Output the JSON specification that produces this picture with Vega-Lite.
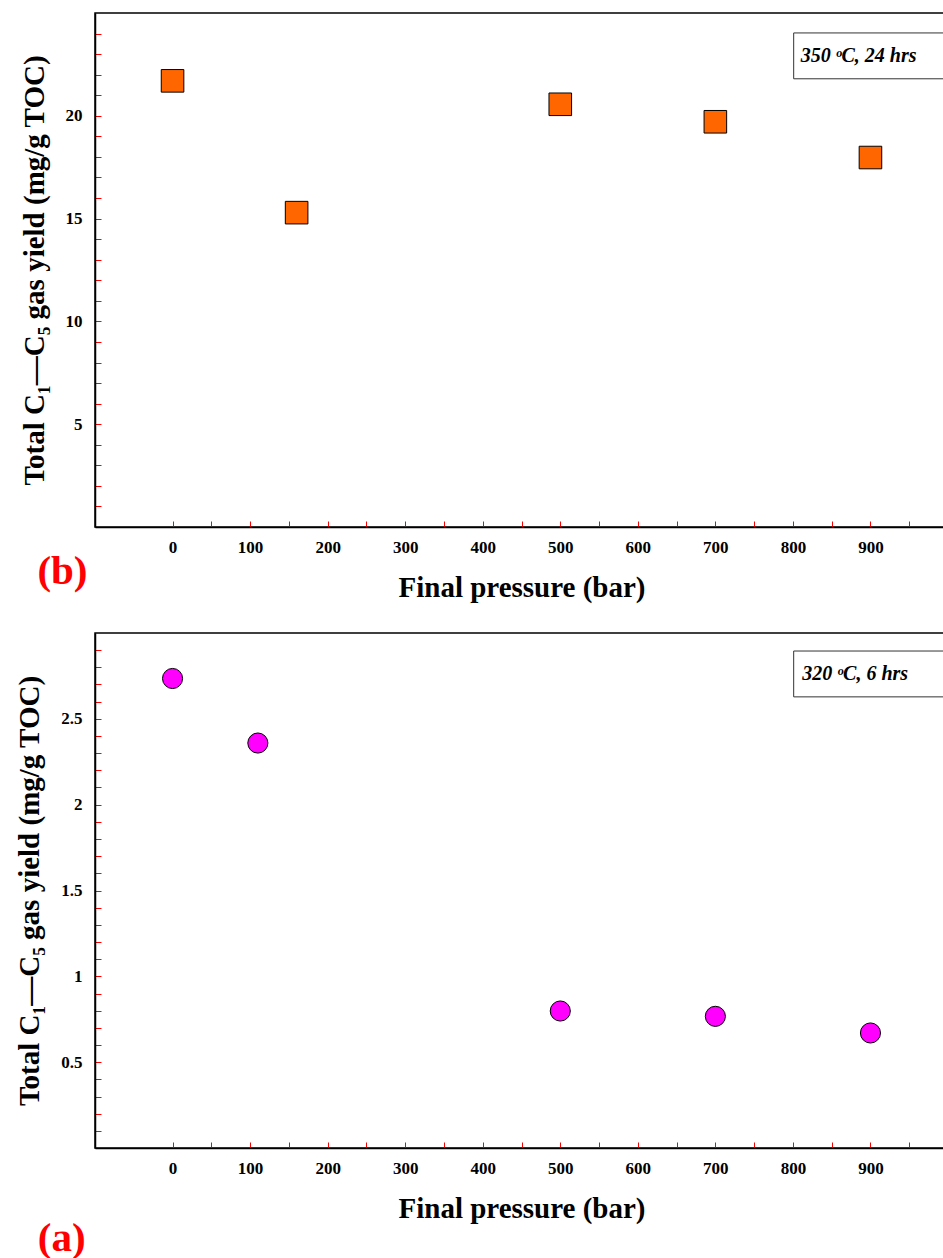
{
  "$schema": "https://vega.github.io/schema/vega-lite/v6.json",
  "background": "white",
  "padding": {"top": 12, "left": 15, "right": 0, "bottom": 0},
  "spacing": 29,
  "datasets": {
    "b_points": [
      {"pressure": 0, "yield": 21.7},
      {"pressure": 160, "yield": 15.29},
      {"pressure": 500, "yield": 20.56},
      {"pressure": 700, "yield": 19.71},
      {"pressure": 900, "yield": 17.97}
    ],
    "a_points": [
      {"pressure": 0, "yield": 2.735},
      {"pressure": 110, "yield": 2.359},
      {"pressure": 500, "yield": 0.798},
      {"pressure": 700, "yield": 0.767},
      {"pressure": 900, "yield": 0.67}
    ],
    "b_box": [{"x1": 801, "x2": 1000, "y1": 21.8, "y2": 24.03, "tx": 810, "ty": 22.9, "label": "350  ᵒC, 24 hrs"}],
    "a_box": [{"x1": 801, "x2": 1000, "y1": 2.628, "y2": 2.895, "tx": 812, "ty": 2.76, "label": "320  ᵒC, 6 hrs"}],
    "b_tag": [{"x": -142, "y": -2.2, "label": "(b)"}],
    "a_tag": [{"x": -143, "y": -0.53, "label": "(a)"}]
  },
  "vconcat": [
    {
      "width": 853,
      "height": 514,
      "layer": [
        {
          "data": {"name": "b_points"},
          "mark": {"type": "point", "shape": "square", "filled": true, "fill": "#FF6600", "stroke": "black", "strokeWidth": 1, "size": 510, "opacity": 1},
          "encoding": {
            "x": {"field": "pressure", "type": "quantitative", "scale": {"domain": [-100, 1000], "nice": false, "zero": false},
              "axis": {"values": [0,50,100,150,200,250,300,350,400,450,500,550,600,650,700,750,800,850,900,950], "tickCount": 200,
                "labelExpr": "datum.value % 100 == 0 ? datum.label : ''", "title": "Final pressure (bar)"}},
            "y": {"field": "yield", "type": "quantitative", "scale": {"domain": [0, 25], "nice": false, "zero": false},
              "axis": {"values": [1,2,3,4,5,6,7,8,9,10,11,12,13,14,15,16,17,18,19,20,21,22,23,24], "tickCount": 200,
                "labelExpr": "datum.value % 5 == 0 ? format(datum.value, '~g') : ''", "title": "Total C₁—C₅ gas yield (mg/g TOC)"}}
          }
        },
        {
          "data": {"name": "b_box"},
          "mark": {"type": "rect", "fill": "white", "stroke": "#333333", "strokeWidth": 1},
          "encoding": {
            "x": {"field": "x1", "type": "quantitative", "scale": {"domain": [-100, 1000], "nice": false, "zero": false}},
            "x2": {"field": "x2"},
            "y": {"field": "y1", "type": "quantitative", "scale": {"domain": [0, 25], "nice": false, "zero": false}},
            "y2": {"field": "y2"}
          }
        },
        {
          "data": {"name": "b_box"},
          "mark": {"type": "text", "align": "left", "baseline": "middle", "font": "Liberation Serif", "fontSize": 20, "fontWeight": "bold", "fontStyle": "italic", "color": "black"},
          "encoding": {
            "x": {"field": "tx", "type": "quantitative", "scale": {"domain": [-100, 1000], "nice": false, "zero": false}},
            "y": {"field": "ty", "type": "quantitative", "scale": {"domain": [0, 25], "nice": false, "zero": false}},
            "text": {"field": "label"}
          }
        },
        {
          "data": {"name": "b_tag"},
          "mark": {"type": "text", "align": "center", "baseline": "middle", "font": "Liberation Serif", "fontSize": 41, "fontWeight": "bold", "color": "#FF0000"},
          "encoding": {
            "x": {"field": "x", "type": "quantitative", "scale": {"domain": [-100, 1000], "nice": false, "zero": false}},
            "y": {"field": "y", "type": "quantitative", "scale": {"domain": [0, 25], "nice": false, "zero": false}},
            "text": {"field": "label"}
          }
        }
      ]
    },
    {
      "width": 853,
      "height": 515,
      "layer": [
        {
          "data": {"name": "a_points"},
          "mark": {"type": "point", "shape": "circle", "filled": true, "fill": "#FF00FF", "stroke": "black", "strokeWidth": 1, "size": 405, "opacity": 1},
          "encoding": {
            "x": {"field": "pressure", "type": "quantitative", "scale": {"domain": [-100, 1000], "nice": false, "zero": false},
              "axis": {"values": [0,50,100,150,200,250,300,350,400,450,500,550,600,650,700,750,800,850,900,950], "tickCount": 200,
                "labelExpr": "datum.value % 100 == 0 ? datum.label : ''", "title": "Final pressure (bar)"}},
            "y": {"field": "yield", "type": "quantitative", "scale": {"domain": [0, 3], "nice": false, "zero": false},
              "axis": {"values": [0.1,0.2,0.3,0.4,0.5,0.6,0.7,0.8,0.9,1,1.1,1.2,1.3,1.4,1.5,1.6,1.7,1.8,1.9,2,2.1,2.2,2.3,2.4,2.5,2.6,2.7,2.8,2.9], "tickCount": 200,
                "labelExpr": "abs(datum.value * 2 - round(datum.value * 2)) < 0.001 ? format(datum.value, '~g') : ''", "title": "Total C₁—C₅ gas yield (mg/g TOC)"}}
          }
        },
        {
          "data": {"name": "a_box"},
          "mark": {"type": "rect", "fill": "white", "stroke": "#333333", "strokeWidth": 1},
          "encoding": {
            "x": {"field": "x1", "type": "quantitative", "scale": {"domain": [-100, 1000], "nice": false, "zero": false}},
            "x2": {"field": "x2"},
            "y": {"field": "y1", "type": "quantitative", "scale": {"domain": [0, 3], "nice": false, "zero": false}},
            "y2": {"field": "y2"}
          }
        },
        {
          "data": {"name": "a_box"},
          "mark": {"type": "text", "align": "left", "baseline": "middle", "font": "Liberation Serif", "fontSize": 20, "fontWeight": "bold", "fontStyle": "italic", "color": "black"},
          "encoding": {
            "x": {"field": "tx", "type": "quantitative", "scale": {"domain": [-100, 1000], "nice": false, "zero": false}},
            "y": {"field": "ty", "type": "quantitative", "scale": {"domain": [0, 3], "nice": false, "zero": false}},
            "text": {"field": "label"}
          }
        },
        {
          "data": {"name": "a_tag"},
          "mark": {"type": "text", "align": "center", "baseline": "middle", "font": "Liberation Serif", "fontSize": 41, "fontWeight": "bold", "color": "#FF0000"},
          "encoding": {
            "x": {"field": "x", "type": "quantitative", "scale": {"domain": [-100, 1000], "nice": false, "zero": false}},
            "y": {"field": "y", "type": "quantitative", "scale": {"domain": [0, 3], "nice": false, "zero": false}},
            "text": {"field": "label"}
          }
        }
      ]
    }
  ],
  "config": {
    "font": "Liberation Serif",
    "view": {"stroke": "black", "strokeWidth": 1.5},
    "axis": {
      "grid": false,
      "domainColor": "black",
      "domainWidth": 1.5,
      "tickColor": "#FF0000",
      "tickWidth": 1,
      "tickSize": -6,
      "labelFont": "Liberation Serif",
      "labelFontSize": 17,
      "labelFontWeight": "bold",
      "labelColor": "black",
      "labelOverlap": false,
      "labelFlush": false,
      "titleFont": "Liberation Serif",
      "titleFontSize": 29,
      "titleFontWeight": "bold",
      "titleColor": "black"
    },
    "axisX": {"labelPadding": 18, "titlePadding": 18},
    "axisY": {"labelPadding": 19, "titlePadding": 16}
  }
}
